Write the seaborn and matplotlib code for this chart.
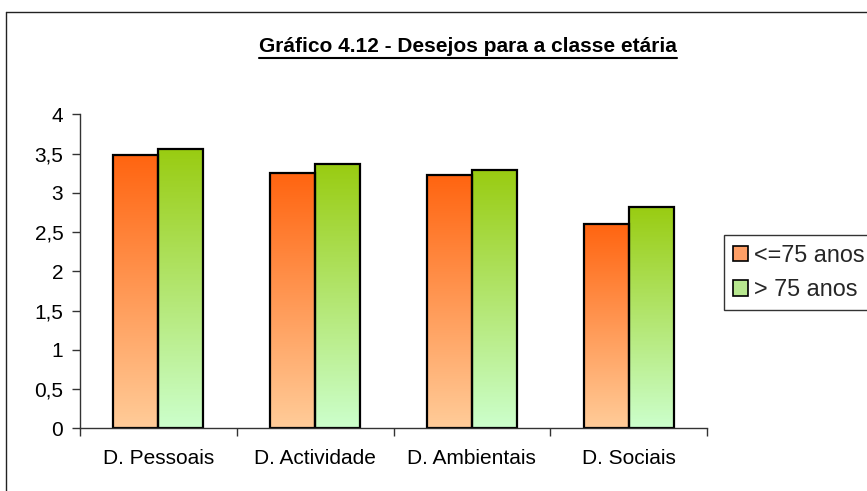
import numpy as np
import pandas as pd
import seaborn as sns
import matplotlib.pyplot as plt
from matplotlib.colors import LinearSegmentedColormap, to_rgb
from matplotlib.lines import Line2D
from matplotlib.patches import Rectangle

# ---- data ----
categories = ["D. Pessoais", "D. Actividade", "D. Ambientais", "D. Sociais"]
series_names = ["<=75 anos", "> 75 anos"]
vals_young = [3.48, 3.25, 3.23, 2.60]
vals_old = [3.56, 3.37, 3.29, 2.82]
yticks = [0, 0.5, 1, 1.5, 2, 2.5, 3, 3.5, 4]
ytick_labels = ["0", "0,5", "1", "1,5", "2", "2,5", "3", "3,5", "4"]
title = "Gráfico 4.12 - Desejos para a classe etária"

grad_top = ["#FF6410", "#99CC11"]
grad_bottom = ["#FFCC99", "#CCFFCC"]
legend_colors = ["#FF9F66", "#B8E88F"]

df = pd.DataFrame({
    "categoria": categories * 2,
    "valor": vals_young + vals_old,
    "grupo": [series_names[0]] * len(categories) + [series_names[1]] * len(categories),
})

sns.set_theme(style="white")
plt.rcParams["font.family"] = ["Liberation Sans", "DejaVu Sans"]

W, H = 867, 491
fig = plt.figure(figsize=(W / 100, H / 100), dpi=100)
fig.patch.set_facecolor("white")
ax = fig.add_axes([80 / W, (H - 428.3) / H, (707 - 80) / W, (428.3 - 114.3) / H])
ax.set_facecolor("white")

sns.barplot(data=df, x="categoria", y="valor", hue="grupo", order=categories,
            hue_order=series_names, palette=legend_colors, width=0.575,
            saturation=1, edgecolor="black", linewidth=1.6, ax=ax,
            legend=False, errorbar=None)

# gradient fills clipped to each bar
grad = np.linspace(1, 0, 256).reshape(-1, 1)
for p in list(ax.patches):
    fc = p.get_facecolor()[:3]
    s = int(np.argmin([np.sum((np.array(fc) - np.array(to_rgb(c))) ** 2) for c in legend_colors]))
    cmap = LinearSegmentedColormap.from_list("g%d" % s, [grad_bottom[s], grad_top[s]])
    x0, w, h = p.get_x(), p.get_width(), p.get_height()
    im = ax.imshow(grad, extent=[x0, x0 + w, 0, h], aspect="auto", cmap=cmap,
                   vmin=0, vmax=1, zorder=1.5, interpolation="bilinear")
    im.set_clip_path(p)
    p.set_facecolor("none")
    p.set_zorder(2)

ax.set_xlim(-0.5, len(categories) - 0.5)
ax.set_ylim(0, 4)
ax.set_xlabel("")
ax.set_ylabel("")

for side in ["top", "right"]:
    ax.spines[side].set_visible(False)
for side in ["left", "bottom"]:
    ax.spines[side].set_color("#333333")
    ax.spines[side].set_linewidth(1)

ax.set_xticks(np.arange(len(categories) + 1) - 0.5)
ax.set_xticklabels([])
ax.set_xticks(np.arange(len(categories)), minor=True)
ax.set_xticklabels(categories, minor=True)
ax.tick_params(axis="x", which="major", bottom=True, length=6, width=1,
               color="#333333", direction="out")
ax.tick_params(axis="x", which="minor", bottom=True, length=0, pad=15,
               labelsize=15, labelcolor="black")
ax.set_yticks(yticks)
ax.set_yticklabels(ytick_labels)
ax.tick_params(axis="y", left=True, length=6, width=1, color="#333333",
               direction="out", pad=6, labelsize=15, labelcolor="black")

# title with underline
t = fig.text(468 / W, (H - 51.7) / H, title, ha="center", va="baseline",
             fontsize=15, fontweight="bold", color="black")
fig.canvas.draw()
bb = t.get_window_extent()
fig.add_artist(Line2D([bb.x0 / W, bb.x1 / W], [(H - 57.5) / H] * 2,
                      transform=fig.transFigure, color="black", lw=1.5))

# chart area border (left and top visible, rest cropped)
fig.add_artist(Line2D([6 / W, 6 / W], [-0.05, (H - 12) / H], transform=fig.transFigure,
                      color="#222222", lw=1))
fig.add_artist(Line2D([6 / W, 1.05], [(H - 12) / H] * 2, transform=fig.transFigure,
                      color="#222222", lw=1))

# legend
handles = [Rectangle((0, 0), 1, 1, facecolor=c, edgecolor="black", lw=1.2) for c in legend_colors]
leg = fig.legend(handles, series_names, loc="upper left",
                 bbox_to_anchor=(724 / W, (H - 235) / H), frameon=True, fancybox=False,
                 edgecolor="black", fontsize=16.8, handlelength=0.64, handleheight=0.64,
                 handletextpad=0.26, borderpad=0.38, labelspacing=0.48, borderaxespad=0)
leg.get_frame().set_linewidth(1)
leg.get_frame().set_facecolor("white")

fig.savefig("out.png", dpi=100)
